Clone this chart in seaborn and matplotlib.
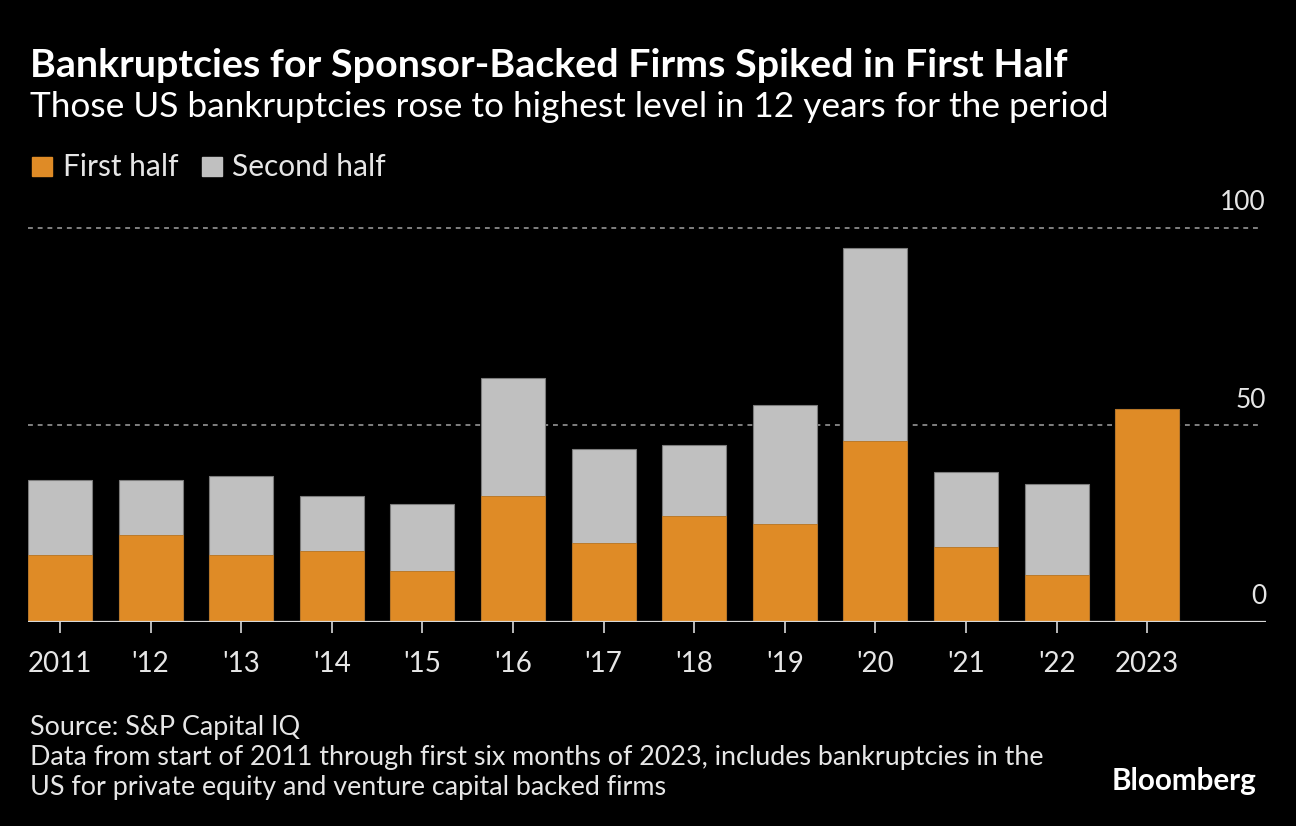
import matplotlib
matplotlib.use("Agg")
import matplotlib.pyplot as plt
import seaborn as sns
import pandas as pd

years = ["2011", "'12", "'13", "'14", "'15", "'16", "'17", "'18", "'19", "'20", "'21", "'22", "2023"]
first_half = [17, 22, 17, 18, 13, 32, 20, 27, 25, 46, 19, 12, 54]
second_half = [19, 14, 20, 14, 17, 30, 24, 18, 30, 49, 19, 23, 0]
y_ticks = [0, 50, 100]

ORANGE = "#DF8B26"
GRAY = "#C0C0C0"
BG = "#000000"
TXT = "#E6E6E6"

sns.set_theme(style="dark")
FONT = ["Lato", "DejaVu Sans"]
plt.rcParams["font.family"] = FONT

df = pd.DataFrame({
    "year": years,
    "first": first_half,
    "total": [a + b for a, b in zip(first_half, second_half)],
})

fig = plt.figure(figsize=(12.96, 8.26), dpi=100, facecolor=BG)
ax = fig.add_axes([28 / 1296, 1 - 622 / 826, (1266 - 28) / 1296, (622 - 208.3) / 826])
ax.set_facecolor(BG)

sns.barplot(data=df, x="year", y="total", color=GRAY, width=0.706, saturation=1,
            edgecolor="#7c7c7c", linewidth=0.8, ax=ax, zorder=2)
sns.barplot(data=df, x="year", y="first", color=ORANGE, width=0.706, saturation=1,
            edgecolor="#b8731f", linewidth=0.6, ax=ax, zorder=3)

ax.set_xlim(-0.353, 13.31)
ax.set_ylim(0, 105)
ax.set_xlabel("")
ax.set_ylabel("")
ax.set_yticks([])
for s in ax.spines.values():
    s.set_visible(False)

for v in y_ticks[1:]:
    ax.axhline(v, xmax=0.997, color="#808080", lw=1.4, ls=(0, (2.5, 2.5)), zorder=1)
ax.axhline(0, color="#D8D8D8", lw=1.6, zorder=4)

for v in y_ticks:
    ax.annotate(str(v), xy=(1.0, v), xycoords=("axes fraction", "data"),
                xytext=(0, 9), textcoords="offset points", ha="right", va="bottom",
                color=TXT, fontsize=19, family=FONT)

ax.tick_params(axis="x", colors="#C8C8C8", length=8, width=1.3, pad=13,
               labelsize=20, labelcolor=TXT, bottom=True, direction="out")
ax.grid(False)

fig.text(30 / 1296, 1 - 77 / 826, "Bankruptcies for Sponsor-Backed Firms Spiked in First Half",
         color="white", fontsize=28.4, fontweight="bold", ha="left", va="baseline")
fig.text(30 / 1296, 1 - 117 / 826, "Those US bankruptcies rose to highest level in 12 years for the period",
         color="white", fontsize=25.4, ha="left", va="baseline")

# legend
fig.patches.append(plt.Rectangle((32 / 1296, 1 - 176 / 826), 20 / 1296, 19 / 826,
                                 transform=fig.transFigure, color=ORANGE))
fig.text(63 / 1296, 1 - 176 / 826, "First half", color=TXT, fontsize=21.5, ha="left", va="baseline")
fig.patches.append(plt.Rectangle((202 / 1296, 1 - 176 / 826), 20 / 1296, 19 / 826,
                                 transform=fig.transFigure, color=GRAY))
fig.text(232 / 1296, 1 - 176 / 826, "Second half", color=TXT, fontsize=21.5, ha="left", va="baseline")

fig.text(30 / 1296, 1 - 735 / 826, "Source: S&P Capital IQ", color=TXT, fontsize=19.4, ha="left", va="baseline")
fig.text(30 / 1296, 1 - 765 / 826,
         "Data from start of 2011 through first six months of 2023, includes bankruptcies in the",
         color=TXT, fontsize=19.4, ha="left", va="baseline")
fig.text(30 / 1296, 1 - 795 / 826, "US for private equity and venture capital backed firms",
         color=TXT, fontsize=19.4, ha="left", va="baseline")
fig.text(1257 / 1296, 1 - 790 / 826, "Bloomberg", color="white", fontsize=21.3, fontweight="bold",
         ha="right", va="baseline")

fig.savefig("out.png", dpi=100, facecolor=BG)
